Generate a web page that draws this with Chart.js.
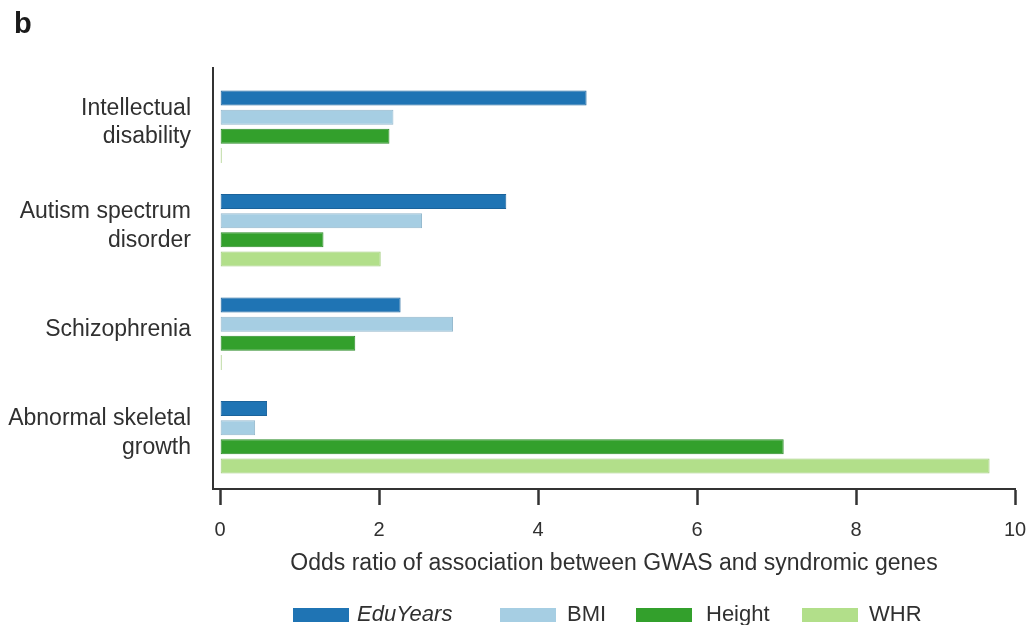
<!DOCTYPE html>
<html>
<head>
<meta charset="utf-8">
<script src="https://cdn.jsdelivr.net/npm/chart.js@4.4.1/dist/chart.umd.min.js"></script>
<style>
  html, body { margin: 0; padding: 0; background: #ffffff; }
  #wrap { position: relative; width: 1032px; height: 625px; overflow: hidden; font-family: "Liberation Sans", Arial, Helvetica, sans-serif; color: #303030; }
  #c { position: absolute; left: 0; top: 0; }
  #panel { position: absolute; left: 14px; top: 9px; font-weight: bold; font-size: 29px; line-height: 29px; color: #1a1a1a; }
  .lg-box { position: absolute; height: 14px; }
  .lg-text { position: absolute; font-size: 22px; line-height: 26px; color: #303030; white-space: nowrap; }
</style>
</head>
<body>
<div id="wrap">
  <canvas id="c" width="1032" height="625"></canvas>
  <div id="panel">b</div>
  <div id="legend"></div>
</div>
<script>
// ---- data ----
const categories = [
  ["Intellectual", "disability"],
  ["Autism spectrum", "disorder"],
  ["Schizophrenia"],
  ["Abnormal skeletal", "growth"]
];
const seriesNames = ["EduYears", "BMI", "Height", "WHR"];
const eduYears = [4.61, 3.60, 2.27, 0.59];
const bmi      = [2.18, 2.54, 2.93, 0.44];
const height   = [2.13, 1.30, 1.70, 7.09];
const whr      = [0.02, 2.02, 0.02, 9.68];
const xTickValues = [0, 2, 4, 6, 8, 10];
const xTitle = "Odds ratio of association between GWAS and syndromic genes";

// ---- styles ----
const fills   = ["#1f74b4", "#a6cee3", "#33a02c", "#b2df8a"];
const borders = ["#1b639b", "#93b7cc", "#2c8c27", "#a0cb7b"];
const legendItalic = [true, false, false, false];
const legendBoxLeft = [293, 500, 636, 802];
const legendTextLeft = [357, 567, 706, 869];

const seriesValues = [eduYears, bmi, height, whr];

const axisColor = "#333333";
const textColor = "#303030";
const fontFamily = "'Liberation Sans', Arial, Helvetica, sans-serif";

// y axis line (extends slightly above plotting area as in the figure)
const yAxisLine = {
  id: "yAxisLine",
  afterDraw(chart) {
    const ctx = chart.ctx;
    const a = chart.chartArea;
    ctx.save();
    ctx.strokeStyle = axisColor;
    ctx.lineWidth = 2;
    ctx.beginPath();
    ctx.moveTo(a.left, a.top - 8);
    ctx.lineTo(a.left, a.bottom + 1);
    ctx.stroke();
    ctx.restore();
  }
};

new Chart(document.getElementById("c"), {
  type: "bar",
  data: {
    labels: categories,
    datasets: seriesNames.map((name, i) => ({
      label: name,
      data: seriesValues[i],
      backgroundColor: fills[i],
      borderColor: borders[i],
      borderWidth: 1,
      borderSkipped: false,
      categoryPercentage: 0.74,
      barPercentage: 0.78
    }))
  },
  options: {
    indexAxis: "y",
    responsive: false,
    animation: false,
    devicePixelRatio: 1,
    layout: { padding: { top: 75, right: 17, left: 0, bottom: 0 } },
    plugins: {
      legend: { display: false },
      tooltip: { enabled: false },
      title: { display: false }
    },
    scales: {
      x: {
        type: "linear",
        min: -0.09,
        max: 10,
        afterBuildTicks(scale) {
          scale.ticks = xTickValues.map(v => ({ value: v }));
        },
        afterFit(scale) {
          scale.height = 136;
          scale.paddingRight = 0;
          scale.paddingLeft = 0;
        },
        grid: {
          drawOnChartArea: false,
          drawTicks: true,
          tickLength: 16,
          tickColor: axisColor,
          tickWidth: 2.5,
          color: axisColor
        },
        border: { display: true, color: axisColor, width: 2 },
        ticks: {
          padding: 13,
          color: textColor,
          font: { family: fontFamily, size: 20 },
          maxRotation: 0,
          autoSkip: false,
          callback: v => String(v)
        },
        title: {
          display: true,
          text: xTitle,
          color: textColor,
          font: { family: fontFamily, size: 23 },
          padding: { top: 0, bottom: 48 }
        }
      },
      y: {
        afterFit(scale) { scale.width = 213; },
        grid: { display: false, drawTicks: false },
        border: { display: false },
        ticks: {
          padding: 22,
          labelOffset: -4,
          color: textColor,
          font: { family: fontFamily, size: 23, lineHeight: 1.24 },
          autoSkip: false
        }
      }
    }
  },
  plugins: [yAxisLine]
});

// HTML legend (EduYears is set in italics in the figure)
const lg = document.getElementById("legend");
seriesNames.forEach((name, i) => {
  const box = document.createElement("div");
  box.className = "lg-box";
  box.style.left = legendBoxLeft[i] + "px";
  box.style.top = "608px";
  box.style.width = "56px";
  box.style.background = fills[i];
  lg.appendChild(box);
  const t = document.createElement("div");
  t.className = "lg-text";
  t.style.left = legendTextLeft[i] + "px";
  t.style.top = "601px";
  if (legendItalic[i]) t.style.fontStyle = "italic";
  t.textContent = name;
  lg.appendChild(t);
});
</script>
</body>
</html>
